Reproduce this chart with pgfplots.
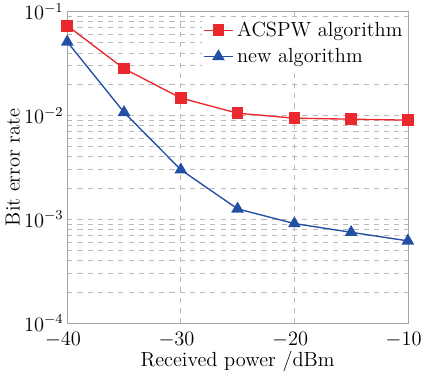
\documentclass[border=0pt]{standalone}
\usepackage{pgfplots}
\pgfplotsset{compat=1.18}
\definecolor{myred}{RGB}{235,40,45}
\definecolor{myblue}{RGB}{35,80,165}
\begin{document}
\begin{tikzpicture}
\begin{axis}[
  scale only axis, width=200pt, height=183pt,
  ymode=log, xmin=-40, xmax=-10, ymin=1e-4, ymax=1e-1,
  xtick={-40,-30,-20,-10},
  ytick={1e-4,1e-3,1e-2,1e-1},
  grid=both,
  major grid style={gray!55, dashed},
  minor grid style={gray!55, dashed},
  minor x tick num=0,
  axis line style={gray!70},
  tick style={draw=none},
  font=\fontsize{12}{14}\selectfont,
  xticklabel style={inner sep=2pt, yshift=-3pt, xshift=-2.5pt},
  yticklabel style={inner sep=2pt},
  xlabel={Received power /dBm},
  ylabel={Bit error rate},
  xlabel style={yshift=3pt},
  ylabel style={yshift=-3pt},
  legend style={at={(1,0.985)}, anchor=north east, draw=none, fill=white, font=\fontsize{12}{14}\selectfont, inner sep=1pt, row sep=1.5pt},
  legend cell align=left,
]
\addplot[myred, thick, mark=square*, mark size=3pt, mark options={fill=myred}] coordinates {
(-40,0.073) (-35,0.0282) (-30,0.0147) (-25,0.0105) (-20,0.0094) (-15,0.0092) (-10,0.0090)};
\addlegendentry{ACSPW algorithm}
\addplot[myblue, thick, mark=triangle*, mark size=3.5pt, mark options={fill=myblue}] coordinates {
(-40,0.051) (-35,0.0107) (-30,0.0030) (-25,0.00126) (-20,0.00091) (-15,0.00075) (-10,0.00062)};
\addlegendentry{new algorithm}
\end{axis}
\end{tikzpicture}
\end{document}
